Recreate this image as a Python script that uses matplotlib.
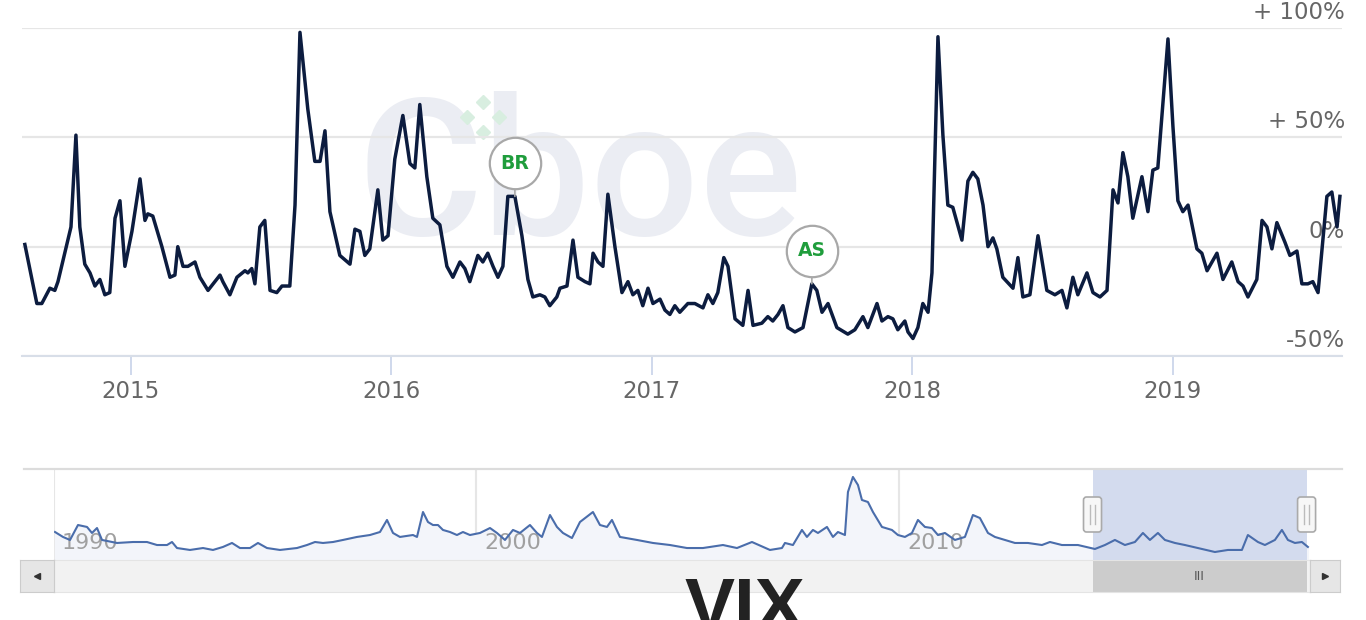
import numpy as np
import matplotlib
matplotlib.use("Agg")
import matplotlib.pyplot as plt
from matplotlib.patches import FancyBboxPatch
from matplotlib.lines import Line2D
from matplotlib.transforms import ScaledTranslation, blended_transform_factory, IdentityTransform

# VIX weekly % change (main chart), x in decimal years
years = [2014.593, 2014.639, 2014.658, 2014.689, 2014.708, 2014.720, 2014.758, 2014.770, 2014.789, 2014.804,
         2014.823, 2014.843, 2014.862, 2014.881, 2014.900, 2014.919, 2014.939, 2014.958, 2014.977, 2015.004,
         2015.035, 2015.054, 2015.065, 2015.084, 2015.119, 2015.150, 2015.169, 2015.180, 2015.200, 2015.219,
         2015.246, 2015.265, 2015.296, 2015.322, 2015.342, 2015.353, 2015.380, 2015.407, 2015.438, 2015.449,
         2015.464, 2015.476, 2015.495, 2015.514, 2015.534, 2015.560, 2015.580, 2015.610, 2015.630, 2015.649,
         2015.679, 2015.706, 2015.726, 2015.745, 2015.764, 2015.802, 2015.841, 2015.860, 2015.879, 2015.898,
         2015.917, 2015.948, 2015.967, 2015.987, 2016.013, 2016.044, 2016.071, 2016.090, 2016.109, 2016.136,
         2016.159, 2016.186, 2016.213, 2016.236, 2016.263, 2016.282, 2016.301, 2016.332, 2016.351, 2016.370,
         2016.390, 2016.409, 2016.428, 2016.447, 2016.474, 2016.501, 2016.524, 2016.543, 2016.570, 2016.589,
         2016.608, 2016.635, 2016.647, 2016.674, 2016.697, 2016.716, 2016.743, 2016.762, 2016.774, 2016.793,
         2016.812, 2016.831, 2016.858, 2016.885, 2016.908, 2016.927, 2016.946, 2016.965, 2016.985, 2017.004,
         2017.031, 2017.050, 2017.069, 2017.088, 2017.107, 2017.138, 2017.165, 2017.196, 2017.215, 2017.234,
         2017.253, 2017.276, 2017.292, 2017.319, 2017.349, 2017.369, 2017.388, 2017.422, 2017.445, 2017.464,
         2017.484, 2017.503, 2017.522, 2017.549, 2017.580, 2017.614, 2017.633, 2017.653, 2017.676, 2017.710,
         2017.752, 2017.779, 2017.810, 2017.829, 2017.864, 2017.883, 2017.906, 2017.925, 2017.944, 2017.971,
         2017.983, 2018.002, 2018.021, 2018.040, 2018.060, 2018.075, 2018.098, 2018.117, 2018.136, 2018.155,
         2018.190, 2018.213, 2018.232, 2018.251, 2018.271, 2018.290, 2018.309, 2018.324, 2018.347, 2018.386,
         2018.405, 2018.424, 2018.451, 2018.482, 2018.516, 2018.547, 2018.574, 2018.593, 2018.616, 2018.635,
         2018.670, 2018.693, 2018.720, 2018.747, 2018.770, 2018.789, 2018.808, 2018.827, 2018.846, 2018.881,
         2018.904, 2018.923, 2018.942, 2018.981, 2019.000, 2019.019, 2019.038, 2019.058, 2019.092, 2019.111,
         2019.131, 2019.150, 2019.169, 2019.192, 2019.226, 2019.250, 2019.269, 2019.288, 2019.322, 2019.342,
         2019.361, 2019.380, 2019.399, 2019.430, 2019.449, 2019.476, 2019.495, 2019.518, 2019.537, 2019.557,
         2019.591, 2019.610, 2019.630, 2019.641]
pct = [1, -26, -26, -19, -20, -16, 3, 9, 51, 9,
       -8, -12, -18, -15, -22, -21, 13, 21, -9, 7,
       31, 12, 15, 14, 0, -14, -13, 0, -9, -9,
       -7, -14, -20, -16, -13, -16, -22, -14, -11, -12,
       -10, -17, 9, 12, -20, -21, -18, -18, 19, 98,
       63, 39, 39, 53, 16, -4, -8, 8, 7, -4,
       -1, 26, 3, 5, 40, 60, 38, 36, 65, 32,
       13, 10, -9, -14, -7, -10, -16, -4, -7, -3,
       -9, -14, -9, 23, 23, 5, -15, -23, -22, -23,
       -27, -23, -19, -18, 3, -14, -16, -17, -3, -7,
       -9, 24, 0, -21, -16, -22, -20, -27, -19, -26,
       -24, -29, -31, -27, -30, -26, -26, -28, -22, -26,
       -21, -5, -9, -33, -36, -20, -36, -35, -32, -34,
       -31, -27, -37, -39, -37, -17, -20, -30, -26, -37,
       -40, -38, -32, -37, -26, -34, -32, -33, -38, -34,
       -39, -42, -37, -26, -30, -12, 96, 51, 19, 18,
       3, 30, 34, 31, 19, 0, 4, -1, -14, -19,
       -5, -23, -22, 5, -20, -22, -20, -28, -14, -22,
       -12, -21, -23, -20, 26, 20, 43, 32, 13, 32,
       16, 35, 36, 95, 55, 21, 16, 19, -1, -3,
       -11, -7, -3, -15, -7, -16, -18, -23, -15, 12,
       9, -1, 11, 2, -4, -2, -17, -17, -16, -21,
       23, 25, 9, 23]

flag_years = [2016.474, 2017.614]
flag_labels = ["BR", "AS"]

# navigator: VIX level 1990-2019
nav_years = [1990.024, 1990.213, 1990.379, 1990.568, 1990.781, 1990.899, 1991.018, 1991.136, 1991.491, 1991.870,
             1992.201, 1992.438, 1992.675, 1992.793, 1992.911, 1993.219, 1993.527, 1993.763, 1994.000, 1994.213,
             1994.402, 1994.639, 1994.828, 1995.041, 1995.349, 1995.751, 1995.988, 1996.178, 1996.367, 1996.604,
             1996.840, 1997.172, 1997.479, 1997.716, 1997.882, 1998.024, 1998.189, 1998.497, 1998.592, 1998.734,
             1998.852, 1998.970, 1999.089, 1999.207, 1999.373, 1999.538, 1999.680, 1999.846, 2000.083, 2000.320,
             2000.485, 2000.675, 2000.864, 2001.030, 2001.266, 2001.432, 2001.550, 2001.740, 2001.905, 2002.047,
             2002.260, 2002.450, 2002.757, 2002.923, 2003.089, 2003.207, 2003.396, 2003.799, 2004.178, 2004.580,
             2004.982, 2005.361, 2005.834, 2006.166, 2006.521, 2006.947, 2007.231, 2007.302, 2007.491, 2007.704,
             2007.822, 2007.964, 2008.083, 2008.296, 2008.438, 2008.556, 2008.722, 2008.793, 2008.911, 2009.030,
             2009.124, 2009.266, 2009.385, 2009.598, 2009.834, 2009.976, 2010.142, 2010.308, 2010.450, 2010.615,
             2010.781, 2010.923, 2011.089, 2011.325, 2011.562, 2011.751, 2011.917, 2012.107, 2012.272, 2012.509,
             2012.746, 2013.053, 2013.385, 2013.574, 2013.858, 2014.237, 2014.639, 2014.876, 2015.112, 2015.349,
             2015.586, 2015.775, 2015.941, 2016.130, 2016.296, 2016.533, 2016.769, 2017.077, 2017.479, 2017.787,
             2018.118, 2018.260, 2018.497, 2018.663, 2018.899, 2019.065, 2019.207, 2019.373, 2019.538, 2019.680]
nav_vix = [28.6, 24.0, 21.2, 35.1, 33.3, 27.7, 32.3, 21.2, 18.4, 19.3,
           19.3, 16.5, 16.5, 19.3, 13.7, 11.9, 13.7, 11.9, 14.7, 18.4,
           13.7, 13.7, 18.4, 13.7, 11.9, 13.7, 16.5, 19.3, 18.4, 19.3,
           21.2, 24.0, 25.8, 28.6, 39.8, 27.7, 24.0, 25.8, 24.0, 47.2,
           37.9, 35.1, 35.1, 30.5, 28.6, 25.8, 28.6, 25.8, 27.7, 32.3,
           27.7, 21.2, 30.5, 27.7, 35.1, 27.7, 24.0, 44.4, 33.3, 27.7,
           23.0, 37.9, 47.2, 35.1, 33.3, 39.8, 24.0, 21.2, 18.4, 16.5,
           13.7, 13.7, 16.5, 13.7, 19.3, 11.9, 13.7, 18.4, 16.5, 30.5,
           24.0, 30.5, 27.7, 33.3, 24.0, 28.6, 25.8, 65.8, 79.8, 72.3,
           58.4, 56.5, 47.2, 33.3, 30.5, 25.8, 24.0, 27.7, 39.8, 33.3,
           32.3, 25.8, 27.7, 21.2, 24.0, 44.4, 41.6, 27.7, 24.0, 21.2,
           18.4, 18.4, 16.5, 19.3, 16.5, 16.5, 12.8, 16.5, 21.2, 16.5,
           19.3, 27.7, 21.2, 27.7, 21.2, 18.4, 16.5, 13.7, 10.0, 11.9,
           11.9, 25.8, 19.3, 16.5, 21.2, 30.5, 21.2, 18.4, 19.3, 14.7]

y_ticks = [-50, 0, 50, 100]
y_ticklabels = ["-50%", "0%", "+ 50%", "+ 100%"]
x_ticks = [2015, 2016, 2017, 2018, 2019]
nav_ticks = [1990, 2000, 2010]

W, H = 1366, 620
fig = plt.figure(figsize=(W / 100, H / 100), dpi=100)
fig.patch.set_facecolor("white")

# ---- main chart
ax = fig.add_axes([22 / W, 1 - 356 / H, 1320 / W, 328 / H])
main_xlim = (2014.582, 2019.649)
ax.set_xlim(*main_xlim)
ax.set_ylim(-50, 100)
for s in ax.spines.values():
    s.set_visible(False)
ax.spines["bottom"].set_visible(True)
ax.spines["bottom"].set_color("#d8dee8")
ax.spines["bottom"].set_linewidth(1.5)

ax.set_yticks(y_ticks)
ax.yaxis.grid(True, color="#e6e6e6", lw=1.6)
ax.tick_params(axis="y", length=0, labelleft=False)
ax.set_xticks(x_ticks)
ax.set_xticklabels([str(t) for t in x_ticks])
ax.tick_params(axis="x", length=14, width=1.3, color="#ccd6eb", pad=3,
               labelsize=16.5, labelcolor="#666666")
ax.set_axisbelow(True)

ylab_tr = blended_transform_factory(ax.transAxes, ax.transData) + \
    ScaledTranslation(0.03, 0.04, fig.dpi_scale_trans)
for v, lab in zip(y_ticks, y_ticklabels):
    ax.text(1.0, v, lab, transform=ylab_tr, ha="right", va="bottom",
            fontsize=16.5, color="#666666", zorder=1, clip_on=False)

# watermark
ax.text(0.254, 0.369, "Cboe", transform=ax.transAxes, fontsize=138, family="Roboto",
        fontweight="medium", color="#ebedf3", ha="left", va="baseline", zorder=0)
ax.plot([0.349, 0.361, 0.349, 0.337], [0.775, 0.728, 0.683, 0.728], ls="none", marker="D",
        ms=7, color="#d8eee0", transform=ax.transAxes, zorder=0)

ax.plot(years, pct, color="#0c1c3f", lw=2.5, zorder=3, solid_joinstyle="round")

# flags
off = 33
tr_flag = ax.transData + ScaledTranslation(0, off / 100, fig.dpi_scale_trans)
for fy, lab in zip(flag_years, flag_labels):
    fv = np.interp(fy, years, pct)
    ax.annotate("", xy=(fy, fv), xytext=(0, off - 26), textcoords="offset pixels",
                arrowprops=dict(arrowstyle="-", color="#aaaaaa", lw=1.2, shrinkA=0, shrinkB=0),
                zorder=4)
    ax.plot([fy], [fv], marker="o", ms=37, mfc="white", mec="#a8a8a8", mew=1.6,
            transform=tr_flag, zorder=5, clip_on=False)
    ax.text(fy, fv, lab, transform=tr_flag, ha="center", va="center", color="#1f9d3c",
            fontweight="bold", fontsize=13.5, zorder=6)

# ---- navigator
nav_bottom = 2.56
nav = fig.add_axes([54 / W, 1 - 560 / H, 1256 / W, 91 / H])
nav.set_xlim(1990, 2019.73)
nav.set_ylim(nav_bottom, 87.2)
for s in nav.spines.values():
    s.set_visible(False)
nav.set_xticks(nav_ticks)
nav.set_yticks([])
nav.xaxis.grid(True, color="#e6e6e6", lw=1.5)
nav.tick_params(axis="x", length=0, labelbottom=False)
nav.set_axisbelow(True)
nav.fill_between(nav_years, nav_vix, nav_bottom, color="#f3f5fa", zorder=1)
nav.axvspan(main_xlim[0], main_xlim[1], color="#d3dbee", zorder=2, lw=0)
nav.plot(nav_years, nav_vix, color="#4a6dab", lw=1.5, zorder=3)
lab_tr = blended_transform_factory(nav.transData, nav.transAxes) + \
    ScaledTranslation(0.08, 0, fig.dpi_scale_trans)
for t in nav_ticks:
    nav.text(t, 0.187, str(t), transform=lab_tr, ha="left", va="center",
             fontsize=16, color="#a0a0a0", zorder=2.5)

fig.add_artist(Line2D([24 / W, 1342 / W], [1 - 469 / H] * 2, color="#dcdcdc", lw=1.6))

# ---- scrollbar
sb = fig.add_axes([54 / W, 1 - 592 / H, 1256 / W, 32 / H])
sb.set_xlim(nav.get_xlim())
sb.set_ylim(0, 1)
sb.set_facecolor("#f2f2f2")
for s in sb.spines.values():
    s.set_color("#e4e4e4")
sb.set_xticks([])
sb.set_yticks([])
sb.axvspan(main_xlim[0], main_xlim[1], color="#cccccc", lw=0)
sb.text(np.mean(main_xlim), 0.5, "III", ha="center", va="center", fontsize=9,
        color="#555555", family="DejaVu Sans")

for x0, w, mk in [(20, 34, "<"), (1310, 30, ">")]:
    b = fig.add_axes([x0 / W, 1 - 592 / H, w / W, 32 / H])
    b.set_facecolor("#e6e6e6")
    for s in b.spines.values():
        s.set_color("#cccccc")
    b.set_xticks([])
    b.set_yticks([])
    b.set_xlim(0, 1)
    b.set_ylim(0, 1)
    b.plot([0.5], [0.5], marker=mk, ms=5, color="#333333")

# navigator handles
fig.canvas.draw()
for hx in main_xlim:
    px = nav.transData.transform((hx, nav_bottom))[0]
    py = H - 532
    fig.add_artist(FancyBboxPatch((px - 9, py), 18, 35, boxstyle="round,pad=0,rounding_size=3",
                                  fc="#f7f7f7", ec="#aaaaaa", lw=1.2, transform=IdentityTransform()))
    for dx in (-2.5, 2.5):
        fig.add_artist(Line2D([px + dx, px + dx], [py + 8, py + 27], color="#bbbbbb", lw=1,
                              transform=IdentityTransform()))

fig.text(745 / W, -0.016, "VIX", ha="center", va="baseline", fontsize=54,
         fontweight="bold", family="Liberation Sans", color="#222222")

fig.savefig("out.png", dpi=100, facecolor="white")
